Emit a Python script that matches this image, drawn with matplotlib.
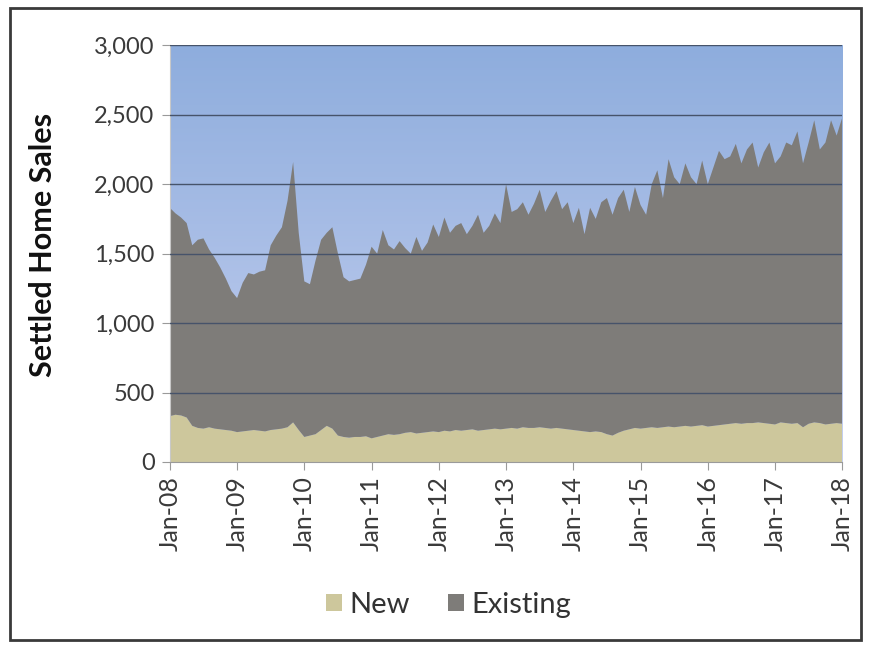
import numpy as np
import matplotlib
matplotlib.use("Agg")
import matplotlib.pyplot as plt
from matplotlib.patches import Rectangle, Patch
from matplotlib.ticker import FuncFormatter
from matplotlib.colors import LinearSegmentedColormap

plt.rcParams['font.family'] = ['Lato', 'DejaVu Sans']

# Monthly settled home sales, Jan-08 .. Jan-18
new_sales = [
    330, 340, 335, 320, 260, 245, 240, 250, 240, 235, 230, 225,
    215, 220, 225, 230, 225, 220, 230, 235, 240, 250, 285, 230,
    180, 190, 200, 230, 260, 240, 190, 180, 175, 180, 180, 185,
    170, 180, 190, 200, 195, 200, 210, 215, 205, 210, 215, 220,
    215, 225, 220, 230, 225, 230, 235, 225, 230, 235, 240, 235,
    240, 245, 240, 250, 245, 245, 250, 245, 240, 245, 240, 235,
    230, 225, 220, 215, 220, 215, 200, 190, 210, 225, 235, 245,
    240, 245, 250, 245, 250, 255, 250, 255, 260, 255, 260, 265,
    255, 260, 265, 270, 275, 280, 275, 280, 280, 285, 280, 275,
    270, 285, 280, 275, 280, 250, 275, 285, 280, 270, 275, 280,
    275,
]
existing_sales = [
    1500, 1450, 1425, 1400, 1300, 1355, 1370, 1280, 1230, 1165, 1090, 1005,
    965, 1070, 1135, 1120, 1145, 1160, 1330, 1395, 1450, 1630, 1875, 1420,
    1120, 1090, 1250, 1370, 1390, 1450, 1310, 1150, 1125, 1130, 1140, 1235,
    1380, 1320, 1480, 1360, 1335, 1390, 1330, 1285, 1415, 1310, 1365, 1490,
    1405, 1535, 1430, 1470, 1495, 1410, 1465, 1555, 1420, 1465, 1550, 1485,
    1760, 1555, 1580, 1620, 1535, 1615, 1710, 1555, 1640, 1705, 1580, 1635,
    1490, 1605, 1420, 1615, 1530, 1655, 1700, 1590, 1690, 1735, 1565, 1735,
    1610, 1535, 1750, 1855, 1650, 1925, 1800, 1745, 1890, 1795, 1740, 1905,
    1745, 1860, 1975, 1910, 1925, 2010, 1875, 1970, 2020, 1835, 1950, 2025,
    1880, 1915, 2020, 2005, 2100, 1900, 2025, 2175, 1970, 2030, 2185, 2070,
    2205,
]
tick_labels = ['Jan-08', 'Jan-09', 'Jan-10', 'Jan-11', 'Jan-12', 'Jan-13',
               'Jan-14', 'Jan-15', 'Jan-16', 'Jan-17', 'Jan-18']
series_names = ['New', 'Existing']

months = np.arange(len(new_sales))

fig = plt.figure(figsize=(8.71, 6.47), dpi=100)
fig.patch.set_facecolor('white')
ax = fig.add_axes([0.195, 0.286, 0.772, 0.644])

# blue gradient plot background
grad = np.linspace(0, 1, 256).reshape(-1, 1)
bg_cmap = LinearSegmentedColormap.from_list('bg', ['#c6d0f0', '#8eaddd'])
ax.imshow(grad, extent=[0, 120, 0, 3000], aspect='auto', cmap=bg_cmap,
          origin='lower', zorder=0)

new_color = '#cdc79c'
existing_color = '#7e7c79'
ax.stackplot(months, new_sales, existing_sales,
             colors=[new_color, existing_color], linewidth=0, zorder=2)

for v in [500, 1000, 1500, 2000, 2500, 3000]:
    ax.axhline(v, color='#46536a', linewidth=1.0, zorder=3)

ax.set_xlim(0, 120)
ax.set_ylim(0, 3000)
ax.set_yticks(np.arange(0, 3001, 500))
ax.yaxis.set_major_formatter(FuncFormatter(lambda v, p: f'{int(v):,}'))
ax.set_xticks(np.arange(0, 121, 12))
ax.set_xticklabels(tick_labels, rotation=90, fontsize=18, color='#3a3a3a')
ax.tick_params(axis='y', labelsize=17, colors='#3a3a3a', length=6,
               color='#9a9a9a', pad=5)
ax.tick_params(axis='x', length=6, color='#9a9a9a', pad=4)

for side in ['top', 'right']:
    ax.spines[side].set_visible(False)
ax.spines['left'].set_color('#c8c8c8')
ax.spines['bottom'].set_color('#9a9a9a')
ax.spines['bottom'].set_zorder(4)

ax.set_ylabel('Settled Home Sales', fontsize=22, fontweight='bold',
              color='#111111')
ax.yaxis.set_label_coords(-0.168, 0.52)

handles = [Patch(facecolor=new_color, edgecolor='none'),
           Patch(facecolor=existing_color, edgecolor='none')]
fig.legend(handles, series_names, loc='center', bbox_to_anchor=(0.515, 0.065),
           ncol=2, frameon=False, fontsize=21, handlelength=0.55,
           handleheight=0.55, handletextpad=0.25, columnspacing=1.3,
           labelcolor='#333333')

# chart frame
fig.patches.append(Rectangle((0.011, 0.011), 0.978, 0.977,
                             transform=fig.transFigure, fill=False,
                             edgecolor='#3a3a3a', linewidth=2.0))

fig.savefig('out.png', dpi=100)
